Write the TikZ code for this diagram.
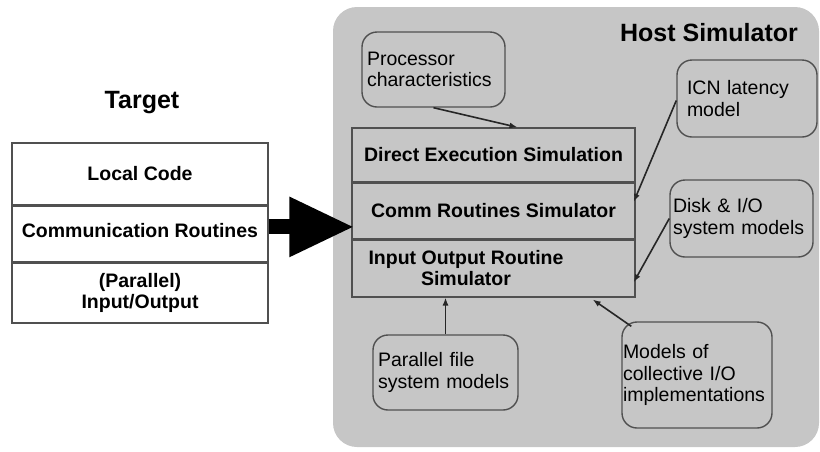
\documentclass[tikz,border=0pt]{standalone}
\usepackage{fontspec}
\setmainfont{Liberation Sans}
\usetikzlibrary{arrows.meta,positioning,calc}
\definecolor{hostgray}{RGB}{198,198,198}
\definecolor{edge}{RGB}{80,80,80}

\begin{document}
\begin{tikzpicture}[x=1pt,y=-1pt,>=Latex,
row/.style={draw=edge,line width=1.4pt,minimum width=256pt,align=center,font=\fontsize{19.5}{21}\selectfont\bfseries},
simrow/.style={row,fill=hostgray,minimum width=283pt},
model/.style={draw=edge,line width=1.4pt,rounded corners=15pt,fill=hostgray,align=left,inner xsep=5pt,font=\fontsize{19.5}{21.5}\selectfont},
title/.style={font=\fontsize{25}{28}\selectfont\bfseries},
feed/.style={line width=1.6pt,black!85,-{Latex[length=8pt,width=6pt]}},
bigarrow/.style={line width=15pt,-{Triangle[length=65pt,width=56pt]}}]
\useasboundingbox (0,0) rectangle (820,451);
\fill[hostgray,rounded corners=24pt] (333,7) rectangle (819,447);
\node[title] (tgt) at (142,103) {Target};
\node[title] (host) at (709,33) {Host Simulator};
% target program layers
\node[row,minimum height=62pt] (tgtlocal) at (140,174) {Local Code};
\node[row,minimum height=55pt,below=0pt of tgtlocal] (tgtcomm) {\raisebox{6pt}{Communication Routines}};
\node[row,minimum height=60pt,below=0pt of tgtcomm] (tgtio) {(Parallel)\\Input/Output};
% simulator layers
\node[simrow,minimum height=54pt] (simexec) at (493.5,155) {Direct Execution Simulation};
\node[simrow,minimum height=55pt,below=0pt of simexec] (simcomm) {Comm Routines Simulator};
\node[simrow,minimum height=57pt,below=0pt of simcomm] (simio) {};
\node[font=\fontsize{19.5}{21}\selectfont\bfseries,align=center] (simiotxt) at (466,268) {Input Output Routine\\Simulator};
\draw[bigarrow] ([yshift=7pt]tgtcomm.east) -- ([yshift=7pt,xshift=3pt]tgtcomm.east -| simcomm.west);
% models feeding the simulator
\node[model,minimum width=143pt,minimum height=75pt,text width=133pt] (proc) at (433.5,69.5) {Processor\\characteristics};
\node[model,minimum width=140pt,minimum height=77pt,text width=120pt,inner xsep=10pt] (icn) at (747,98.5) {ICN latency\\model};
\node[model,minimum width=143pt,minimum height=77pt,text width=137pt,inner xsep=3pt] (disk) at (741.5,218.5) {Disk \& I/O\\system models};
\node[model,minimum width=145pt,minimum height=75pt,text width=135pt] (pfs) at (445.5,372.5) {Parallel file\\system models};
\node[model,minimum width=150pt,minimum height=106pt,text width=148pt,inner xsep=1pt] (coll) at (697,375) {Models of\\collective I/O\\implementations};
\draw[feed] (proc.south) -- ([xshift=24pt]simexec.north);
\draw[feed] ([yshift=-2pt]icn.west) -- ([xshift=-2pt,yshift=9pt]simcomm.east);
\draw[feed] (disk.west) -- ([xshift=-2pt,yshift=-14pt]simio.east);
\draw[feed] (pfs.north) -- (pfs.north |- simio.south);
\draw[feed] ([xshift=10pt,yshift=-5pt]coll.north west) -- ([xshift=-43pt,yshift=-2pt]simio.south east);
\end{tikzpicture}
\end{document}
